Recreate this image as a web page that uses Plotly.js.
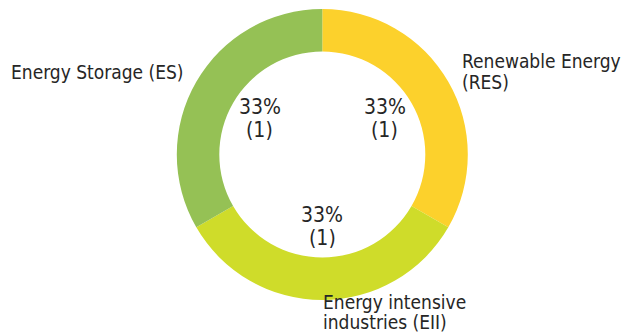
<!DOCTYPE html>
<html>
<head>
<meta charset="utf-8">
<script src="https://cdn.plot.ly/plotly-3.0.1.min.js"></script>
<style>html,body{margin:0;padding:0;background:#fff}#chart{width:623px;height:335px}</style>
</head>
<body>
<div id="chart"></div>
<script>
// Data
var categories = ["Renewable Energy<br>(RES)", "Energy intensive<br>industries (EII)", "Energy Storage (ES)"];
var values = [1, 1, 1];
var colors = ["#FCD12C", "#CFDC2A", "#95C155"];

// Geometry (pixels)
var W = 623, H = 335;
var cx = 322.3, cy = 154.5, R = 145.5, r = 103;
var labelRadius = 72;
var lineGap = 11.5;
// Outside label positions (left edge x, first-line centre y) and line spacing
var outsidePos = [[459.5, 61], [321, 301.5], [8.5, 72.5]];
var outsideLineGap = 20.5;

var FONT = "DejaVu Sans Condensed, DejaVu Sans, sans-serif";
var TXT = "#262626";

var total = values.reduce(function(a, b){ return a + b; }, 0);
var annotations = [];
var cum = 0;
values.forEach(function(v, i){
  var mid = (cum + v / 2) / total * 2 * Math.PI; // clockwise from 12 o'clock
  cum += v;
  var px = cx + labelRadius * Math.sin(mid);
  var py = cy - labelRadius * Math.cos(mid);
  var pct = Math.round(v / total * 100) + "%";
  var lines = [pct, "(" + v + ")"];
  lines.forEach(function(t, k){
    annotations.push({
      xref: "paper", yref: "paper",
      x: px / W, y: 1 - (py + (k === 0 ? -lineGap : lineGap)) / H,
      xanchor: "center", yanchor: "middle",
      text: t, showarrow: false,
      font: {family: FONT, size: 21, color: TXT}
    });
  });
  var parts = categories[i].split("<br>");
  parts.forEach(function(t, k){
    annotations.push({
      xref: "paper", yref: "paper",
      x: outsidePos[i][0] / W, y: 1 - (outsidePos[i][1] + k * outsideLineGap) / H,
      xanchor: "left", yanchor: "middle",
      text: t, showarrow: false,
      font: {family: FONT, size: 19, color: TXT}
    });
  });
});

var trace = {
  type: "pie",
  labels: categories,
  values: values,
  sort: false,
  direction: "clockwise",
  rotation: 0,
  hole: r / R,
  marker: {colors: colors, line: {width: 0}},
  textinfo: "none",
  hoverinfo: "label+percent+value",
  domain: {x: [(cx - R) / W, (cx + R) / W], y: [(H - cy - R) / H, (H - cy + R) / H]}
};

var layout = {
  width: W, height: H,
  margin: {l: 0, r: 0, t: 0, b: 0},
  paper_bgcolor: "#ffffff",
  showlegend: false,
  annotations: annotations,
  font: {family: FONT}
};

Plotly.newPlot("chart", [trace], layout, {displayModeBar: false, staticPlot: true});
</script>
</body>
</html>
